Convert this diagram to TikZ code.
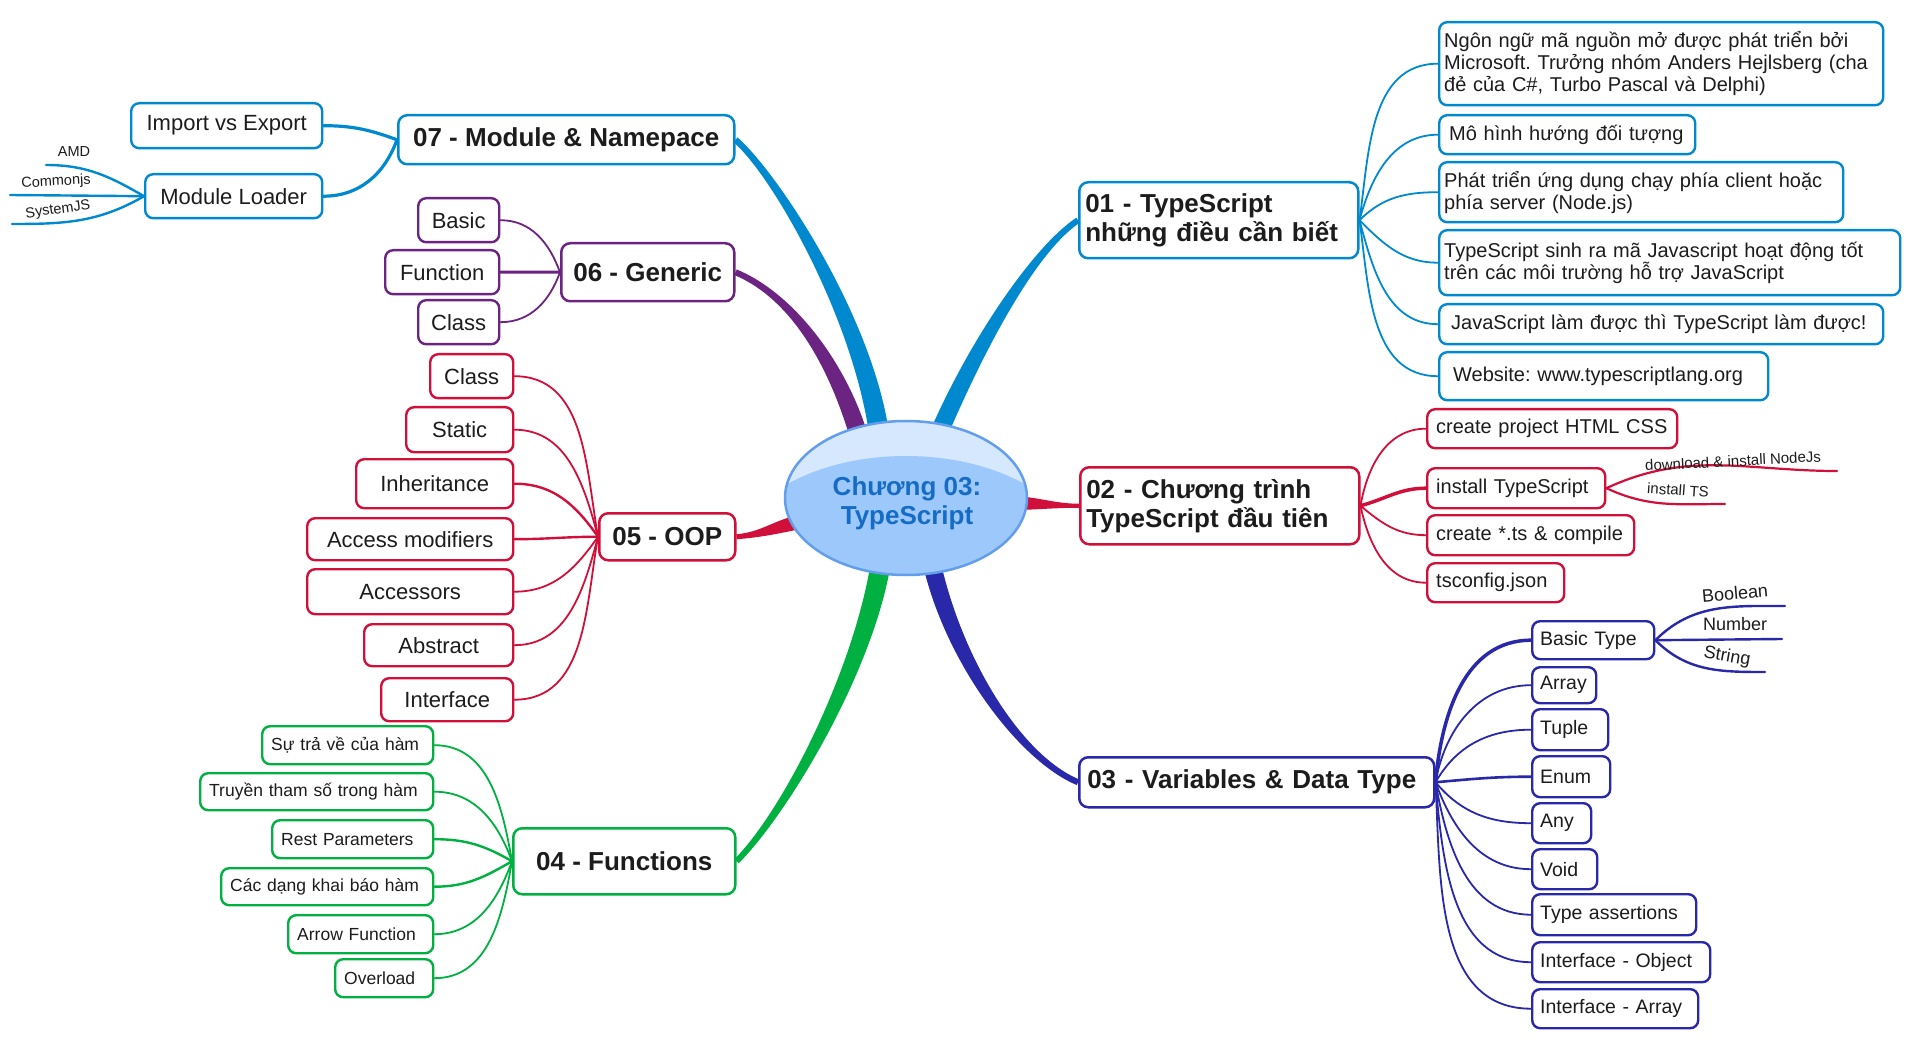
\documentclass[tikz,border=0pt]{standalone}
\usepackage{fontspec}
\setmainfont{Liberation Sans}
\usetikzlibrary{calc,backgrounds,shapes.geometric}
\frenchspacing

\definecolor{tsblue}{RGB}{0,137,207}
\definecolor{tsred}{RGB}{208,16,58}
\definecolor{tsnavy}{RGB}{40,40,168}
\definecolor{tsgreen}{RGB}{0,176,64}
\definecolor{tspurple}{RGB}{108,36,131}
\definecolor{hubfill}{RGB}{156,200,251}
\definecolor{hubtop}{RGB}{214,232,253}
\definecolor{hubline}{RGB}{98,158,236}
\definecolor{hubtext}{RGB}{22,108,196}
\definecolor{ink}{RGB}{28,28,28}

% tapered main branch: colour, start, start offset, start control, end control, end, end offset
\newcommand{\branch}[7]{%
  \fill[#1] ($(#2)+(#3)$) .. controls +(#4) and +(#5) .. ($(#6)+(#7)$)
    -- ($(#6)-(#7)$) .. controls +(#5) and +(#4) .. ($(#2)-(#3)$) -- cycle;}

\begin{document}
\begin{tikzpicture}[x=1pt,y=1pt,
    main/.style={draw=#1, line width=2.5pt, rounded corners=9pt, fill=white, inner sep=0pt,
      anchor=north west, text=ink, font=\fontsize{26pt}{29pt}\selectfont\bfseries},
    sub/.style={draw=#1, line width=2.4pt, rounded corners=8pt, fill=white, inner sep=0pt,
      anchor=north west, text=ink},
    link/.style={draw=#1, line width=1.8pt, line cap=round},
    leaf/.style={inner sep=0pt, text=ink, font=\fontsize{15pt}{17pt}\selectfont},
    txt17/.style={font=\fontsize{17.5pt}{20pt}\selectfont},
    txt19/.style={font=\fontsize{19.5pt}{22pt}\selectfont},
    txt20/.style={font=\fontsize{20pt}{22pt}\selectfont},
    txt22/.style={font=\fontsize{22pt}{25pt}\selectfont}]

\useasboundingbox (0,0) rectangle (1920,-1048);

% Centre
\begin{scope}
  \clip (906,-498) ellipse (121pt and 77pt);
  \fill[hubtop] (906,-498) ellipse (121pt and 77pt);
  \fill[hubfill] (906,-562) ellipse (175pt and 106pt);
\end{scope}
\node[ellipse, draw=hubline, line width=2.5pt, minimum width=242pt, minimum height=154pt,
  inner sep=0pt] (c) at (906,-498) {};
\node[align=center, text=hubtext, font=\fontsize{26pt}{29pt}\selectfont\bfseries]
  (ctext) at ($(c.center)+(1,-5)$) {Chương 03:\\TypeScript};

% Main topics
\node[main=tsblue, align=left, inner xsep=6pt, text width=267pt, minimum height=76pt] (t1) at (1078,-181) {01 - TypeScript\\những điều cần biết};
\node[main=tsred, align=left, inner xsep=6pt, text width=267pt, minimum height=77pt] (t2) at (1079,-466) {02 - Chương trình\\TypeScript đầu tiên};
\node[main=tsnavy, align=left, inner xsep=8pt, text width=339pt, minimum height=50pt] (t3) at (1078,-756) {03 - Variables \& Data Type};
\node[main=tsgreen, minimum width=222pt, minimum height=66pt] (t4) at (512,-827) {04 - Functions};
\node[main=tsred, minimum width=136pt, minimum height=47pt] (t5) at (598,-512) {05 - OOP};
\node[main=tspurple, minimum width=173pt, minimum height=58pt] (t6) at (560,-242) {06 - Generic};
\node[main=tsblue, minimum width=336pt, minimum height=49pt] (t7) at (397,-114) {07 - Module \& Namepace};

% 01
\node[sub=tsblue, txt20, align=left, inner xsep=5pt, text width=434pt, minimum height=83pt] (n11) at (1438,-21) {Ngôn ngữ mã nguồn mở được phát triển bởi\\Microsoft. Trưởng nhóm Anders Hejlsberg (cha\\đẻ của C\#, Turbo Pascal và Delphi)};
\node[sub=tsblue, txt20, align=left, inner xsep=10pt, text width=236pt, minimum height=39pt] (n12) at (1438,-114) {Mô hình hướng đối tượng};
\node[sub=tsblue, txt20, align=left, inner xsep=5pt, text width=394pt, minimum height=60pt] (n13) at (1438,-161) {Phát triển ứng dụng chạy phía client hoặc\\phía server (Node.js)};
\node[sub=tsblue, txt20, align=left, inner xsep=5pt, text width=451pt, minimum height=65pt] (n14) at (1438,-229) {TypeScript sinh ra mã Javascript hoạt động tốt\\trên các môi trường hỗ trợ JavaScript};
\node[sub=tsblue, txt20, align=left, inner xsep=12pt, text width=420pt, minimum height=40pt] (n15) at (1438,-303) {JavaScript làm được thì TypeScript làm được!};
\node[sub=tsblue, txt20, align=left, inner xsep=14pt, text width=301pt, minimum height=48pt] (n16) at (1438,-351) {Website: www.typescriptlang.org};

% 02
\node[sub=tsred, txt20, align=left, inner xsep=9pt, text width=232pt, minimum height=39pt] (n21) at (1426,-408) {create project HTML CSS};
\node[sub=tsred, txt20, align=left, inner xsep=9pt, text width=160pt, minimum height=40pt] (n22) at (1426,-467) {install TypeScript};
\node[sub=tsred, txt20, align=left, inner xsep=9pt, text width=189pt, minimum height=40pt] (n23) at (1426,-514) {create *.ts \& compile};
\node[sub=tsred, txt20, align=left, inner xsep=9pt, text width=119pt, minimum height=39pt] (n24) at (1426,-562) {tsconfig.json};
\coordinate (dl) at (1837,-471);
\coordinate (its) at (1725,-504);
\node[leaf, rotate=3] (dll) at (1733,-461) {download \& install NodeJs};
\node[leaf, rotate=-4] (itsl) at (1678,-490) {install TS};

% 03
\node[sub=tsnavy, txt19, align=left, inner xsep=8pt, text width=106pt, minimum height=38pt] (n31) at (1531,-620) {Basic Type};
\node[sub=tsnavy, txt19, align=left, inner xsep=8pt, text width=48pt, minimum height=36pt] (n32) at (1531,-666) {Array};
\node[sub=tsnavy, txt19, align=left, inner xsep=8pt, text width=60pt, minimum height=41pt] (n33) at (1531,-708) {Tuple};
\node[sub=tsnavy, txt19, align=left, inner xsep=8pt, text width=62pt, minimum height=41pt] (n34) at (1531,-755) {Enum};
\node[sub=tsnavy, txt19, align=left, inner xsep=8pt, text width=43pt, minimum height=40pt] (n35) at (1531,-802) {Any};
\node[sub=tsnavy, txt19, align=left, inner xsep=8pt, text width=49pt, minimum height=40pt] (n36) at (1531,-848) {Void};
\node[sub=tsnavy, txt19, align=left, inner xsep=8pt, text width=148pt, minimum height=41pt] (n37) at (1531,-893) {Type assertions};
\node[sub=tsnavy, txt19, align=left, inner xsep=8pt, text width=162pt, minimum height=40pt] (n38) at (1531,-941) {Interface - Object};
\node[sub=tsnavy, txt19, align=left, inner xsep=8pt, text width=150pt, minimum height=39pt] (n39) at (1531,-988) {Interface - Array};
\coordinate (bool) at (1785,-606);
\coordinate (num) at (1782,-639);
\coordinate (str) at (1765,-672);
\node[leaf, font=\fontsize{18pt}{20pt}\selectfont, rotate=5] (booll) at (1735,-593) {Boolean};
\node[leaf, font=\fontsize{18pt}{20pt}\selectfont] (numl) at (1735,-624) {Number};
\node[leaf, font=\fontsize{18pt}{20pt}\selectfont, rotate=-10] (strl) at (1727,-657) {String};

% 04
\node[sub=tsgreen, txt17, align=left, inner xsep=9pt, text width=153pt, minimum height=38pt] (n41) at (261,-725) {Sự trả về của hàm};
\node[sub=tsgreen, txt17, align=left, inner xsep=9pt, text width=215pt, minimum height=37pt] (n42) at (199,-772) {Truyền tham số trong hàm};
\node[sub=tsgreen, txt17, align=left, inner xsep=9pt, text width=143pt, minimum height=38pt] (n43) at (271,-819) {Rest Parameters};
\node[sub=tsgreen, txt17, align=left, inner xsep=9pt, text width=194pt, minimum height=37pt] (n44) at (220,-867) {Các dạng khai báo hàm};
\node[sub=tsgreen, txt17, align=left, inner xsep=9pt, text width=127pt, minimum height=38pt] (n45) at (287,-914) {Arrow Function};
\node[sub=tsgreen, txt17, align=left, inner xsep=9pt, text width=80pt, minimum height=38pt] (n46) at (334,-958) {Overload};

% 05
\node[sub=tsred, txt22, minimum width=83pt, minimum height=44pt] (n51) at (429,-353) {Class};
\node[sub=tsred, txt22, minimum width=107pt, minimum height=45pt] (n52) at (405,-406) {Static};
\node[sub=tsred, txt22, minimum width=157pt, minimum height=49pt] (n53) at (355,-458) {Inheritance};
\node[sub=tsred, txt22, minimum width=206pt, minimum height=42pt] (n54) at (306,-517) {Access modifiers};
\node[sub=tsred, txt22, minimum width=206pt, minimum height=45pt] (n55) at (306,-568) {Accessors};
\node[sub=tsred, txt22, minimum width=149pt, minimum height=42pt] (n56) at (363,-623) {Abstract};
\node[sub=tsred, txt22, minimum width=132pt, minimum height=43pt] (n57) at (380,-677) {Interface};

% 06
\node[sub=tspurple, txt22, minimum width=81pt, minimum height=44pt] (n61) at (417,-197) {Basic};
\node[sub=tspurple, txt22, minimum width=114pt, minimum height=44pt] (n62) at (384,-249) {Function};
\node[sub=tspurple, txt22, minimum width=81pt, minimum height=44pt] (n63) at (417,-299) {Class};

% 07
\node[sub=tsblue, txt22, minimum width=191pt, minimum height=45pt] (n71) at (130,-102) {Import vs Export};
\node[sub=tsblue, txt22, minimum width=177pt, minimum height=44pt] (n72) at (144,-173) {Module Loader};
\coordinate (amd) at (46,-165);
\coordinate (cjs) at (10,-195);
\coordinate (sjs) at (12,-224);
\node[leaf, font=\fontsize{14.5pt}{16pt}\selectfont] (amdl) at (74,-152) {AMD};
\node[leaf, font=\fontsize{14.5pt}{16pt}\selectfont, rotate=3] (cjsl) at (56,-182) {Commonjs};
\node[leaf, font=\fontsize{14.5pt}{16pt}\selectfont, rotate=8] (sjsl) at (58,-210) {SystemJS};

\begin{scope}[on background layer]
  \fill[white] (0,0) rectangle (1920,-1048);

  % Branch start points inside the centre
  \coordinate (s1) at (936,-440);
  \coordinate (s2) at (1010,-503);
  \coordinate (s3) at (930,-555);
  \coordinate (s4) at (882,-555);
  \coordinate (s5) at (800,-522);
  \coordinate (s6) at (860,-440);
  \coordinate (s7) at (880,-440);

  \branch{tsblue}{s1}{8.3,-3.5}{38,90}{-45,-30}{t1.west}{1.7,-2.5}
  \branch{tsred}{s2}{0,-7}{25,0}{-25,0}{t2.west}{0,-2}
  \branch{tsnavy}{s3}{-8.8,-1.8}{20,-100}{-60,25}{t3.west}{-1.2,-2.8}
  \branch{tsgreen}{s4}{-9.9,1.4}{-15,-110}{50,50}{t4.east}{-2.1,2.1}
  \branch{tsred}{s5}{-1.4,6.9}{-25,-5}{25,2}{t5.east}{-0.2,2.5}
  \branch{tspurple}{s6}{8.7,2.5}{-20,70}{60,-25}{t6.east}{1.2,2.8}
  \branch{tsblue}{s7}{9.9,1.2}{-15,120}{40,-35}{t7.east}{2,2.3}

  % 01 links
  \draw[link=tsblue] (t1.east) to[out=82,in=180] (n11.west);
  \draw[link=tsblue] (t1.east) to[out=75,in=180] (n12.west);
  \draw[link=tsblue] (t1.east) to[out=45,in=180] (n13.west);
  \draw[link=tsblue] (t1.east) to[out=-45,in=180] (n14.west);
  \draw[link=tsblue] (t1.east) to[out=-75,in=180] (n15.west);
  \draw[link=tsblue] (t1.east) to[out=-82,in=180] (n16.west);

  % 02 links
  \draw[link=tsred] (t2.east) to[out=80,in=180] (n21.west);
  \draw[link=tsred, line width=3.5pt] (t2.east) to[out=15,in=180] (n22.west);
  \draw[link=tsred] (t2.east) to[out=-40,in=180] (n23.west);
  \draw[link=tsred] (t2.east) to[out=-78,in=180] (n24.west);
  \draw[link=tsred, line width=2.2pt] (n22.east) to[out=25,in=180] (dl);
  \draw[link=tsred, line width=2.2pt] (n22.east) to[out=-25,in=180] (its);

  % 03 links
  \draw[link=tsnavy, line width=3.5pt] (t3.east) to[out=85,in=180] (n31.west);
  \draw[link=tsnavy] (t3.east) to[out=80,in=180] (n32.west);
  \draw[link=tsnavy] (t3.east) to[out=60,in=180] (n33.west);
  \draw[link=tsnavy, line width=2.6pt] (t3.east) to[out=5,in=180] (n34.west);
  \draw[link=tsnavy] (t3.east) to[out=-50,in=180] (n35.west);
  \draw[link=tsnavy] (t3.east) to[out=-70,in=180] (n36.west);
  \draw[link=tsnavy] (t3.east) to[out=-80,in=180] (n37.west);
  \draw[link=tsnavy] (t3.east) to[out=-85,in=180] (n38.west);
  \draw[link=tsnavy] (t3.east) to[out=-87,in=180] (n39.west);
  \draw[link=tsnavy, line width=2.4pt] (n31.east) to[out=45,in=180] (bool);
  \draw[link=tsnavy, line width=2.4pt] (n31.east) -- (num);
  \draw[link=tsnavy, line width=2.4pt] (n31.east) to[out=-45,in=180] (str);

  % 04 links
  \draw[link=tsgreen] (t4.west) to[out=100,in=0] (n41.east);
  \draw[link=tsgreen] (t4.west) to[out=110,in=0] (n42.east);
  \draw[link=tsgreen, line width=2.4pt] (t4.west) to[out=150,in=0] (n43.east);
  \draw[link=tsgreen, line width=2.4pt] (t4.west) to[out=210,in=0] (n44.east);
  \draw[link=tsgreen] (t4.west) to[out=250,in=0] (n45.east);
  \draw[link=tsgreen] (t4.west) to[out=260,in=0] (n46.east);

  % 05 links
  \draw[link=tsred] (t5.west) to[out=100,in=0] (n51.east);
  \draw[link=tsred] (t5.west) to[out=105,in=0] (n52.east);
  \draw[link=tsred, line width=2.4pt] (t5.west) to[out=125,in=0] (n53.east);
  \draw[link=tsred, line width=2.4pt] (t5.west) to[out=180,in=0] (n54.east);
  \draw[link=tsred] (t5.west) to[out=235,in=0] (n55.east);
  \draw[link=tsred] (t5.west) to[out=255,in=0] (n56.east);
  \draw[link=tsred] (t5.west) to[out=260,in=0] (n57.east);

  % 06 links
  \draw[link=tspurple] (t6.west) to[out=110,in=0] (n61.east);
  \draw[link=tspurple, line width=3pt] (t6.west) to[out=180,in=0] (n62.east);
  \draw[link=tspurple] (t6.west) to[out=250,in=0] (n63.east);

  % 07 links
  \draw[link=tsblue, line width=3.2pt] (t7.west) to[out=160,in=0] (n71.east);
  \draw[link=tsblue, line width=3.2pt] (t7.west) to[out=250,in=0] (n72.east);
  \draw[link=tsblue, line width=2.4pt] (n72.west) to[out=150,in=0] (amd);
  \draw[link=tsblue, line width=2.4pt] (n72.west) -- (cjs);
  \draw[link=tsblue, line width=2.4pt] (n72.west) to[out=210,in=0] (sjs);
\end{scope}
\end{tikzpicture}
\end{document}
